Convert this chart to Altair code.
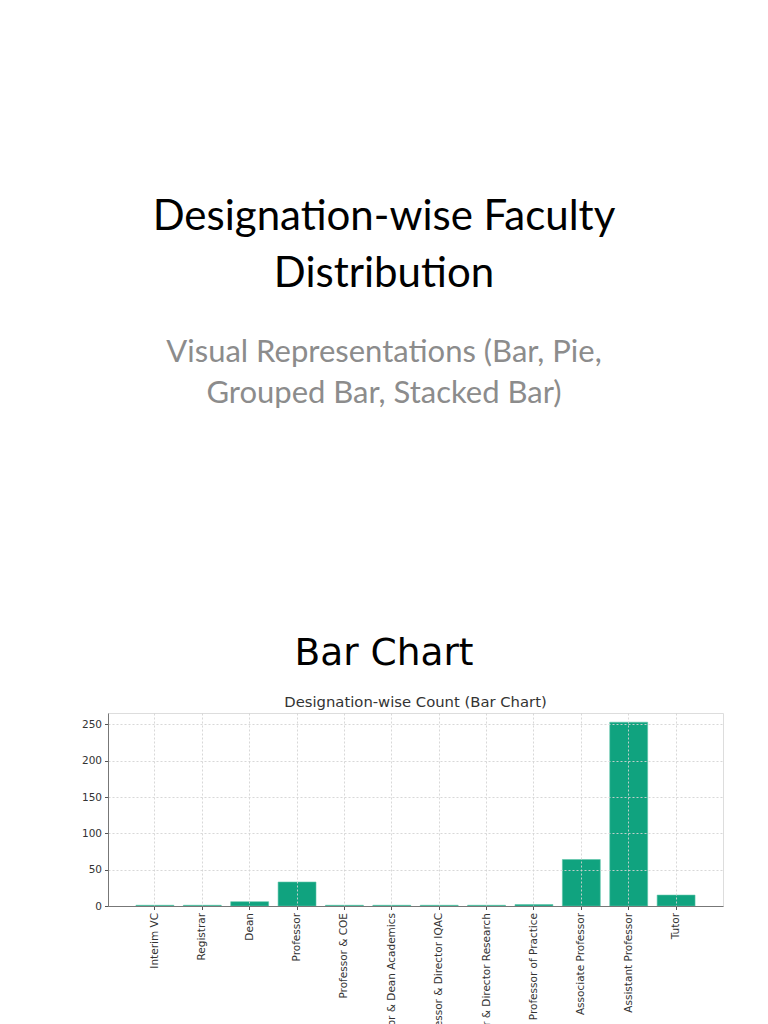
import altair as alt
import pandas as pd

categories = ["Interim VC", "Registrar", "Dean", "Professor", "Professor & COE",
              "Professor & Dean Academics", "Professor & Director IQAC",
              "Professor & Director Research", "Professor of Practice",
              "Associate Professor", "Assistant Professor", "Tutor"]
counts = [1, 1, 6, 33, 1, 1, 1, 1, 2, 64, 253, 15]

title_lines = ["Designation-wise Faculty", "Distribution"]
subtitle_lines = ["Visual Representations (Bar, Pie,", "Grouped Bar, Stacked Bar)"]
section_title = "Bar Chart"
chart_title = "Designation-wise Count (Bar Chart)"

df = pd.DataFrame({"Designation": categories, "Count": counts})

W, H = 615, 193
PAGE_CX = 276  # page center relative to plot left
AX_FONT = "DejaVu Sans"

grid_kw = dict(grid=True, gridDash=[2, 2], gridColor="#d4d4d4", gridOpacity=0.9,
               tickSize=3.5, tickColor="#555555", domainColor="#777777",
               labelPadding=3, zindex=1, labelFont=AX_FONT, labelFontSize=10.5,
               labelColor="#333333")

bars = alt.Chart(df).mark_bar(color="#10a37f", stroke="#5cc4a8", strokeWidth=0.6).encode(
    x=alt.X("Designation:N", sort=categories,
            scale=alt.Scale(paddingInner=0.2, paddingOuter=0.59),
            axis=alt.Axis(title=None, labelAngle=-90, labelAlign="right", labelBaseline="middle",
                          bandPosition=0.5, labelLimit=400, **grid_kw)),
    y=alt.Y("Count:Q", scale=alt.Scale(domain=[0, 265.65], nice=False, zero=True),
            axis=alt.Axis(title=None, values=[0, 50, 100, 150, 200, 250], **grid_kw)),
)

one = alt.Data(values=[{}])

def txt(text, x, y, size, font, color, baseline="alphabetic"):
    return alt.Chart(one).mark_text(text=text, font=font, fontSize=size, color=color,
                                    align="center", baseline=baseline).encode(
        x=alt.value(x), y=alt.value(y))

layers = [
    bars,
    txt(title_lines[0], PAGE_CX, -483, 42, "Lato", "#000000"),
    txt(title_lines[1], PAGE_CX, -426, 42, "Lato", "#000000"),
    txt(subtitle_lines[0], PAGE_CX, -351, 31, "Lato", "#8c8c8c"),
    txt(subtitle_lines[1], PAGE_CX, -310, 31, "Lato", "#8c8c8c"),
    txt(section_title, PAGE_CX, -48, 37.5, "DejaVu Sans", "#000000"),
    txt(chart_title, W / 2, -10, 14.8, "DejaVu Sans", "#333333", baseline="middle"),
]

chart = alt.layer(*layers).properties(
    width=W, height=H,
    autosize=alt.AutoSizeParams(type="none"),
    padding={"left": 100, "top": 705, "right": 37, "bottom": 150},
).configure_view(stroke=None).configure(background="white")

chart.save("out.html", embed_options={"renderer": "svg", "actions": False})
